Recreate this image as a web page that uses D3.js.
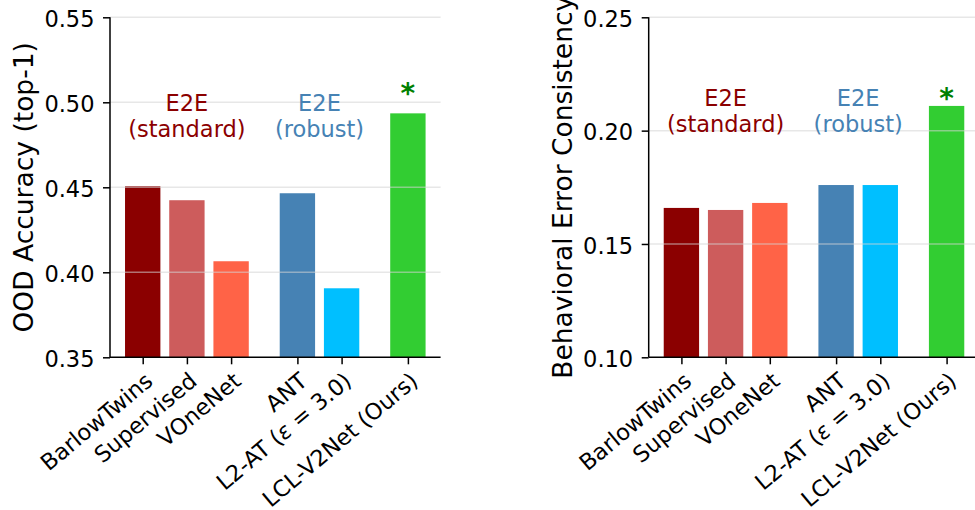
<!DOCTYPE html>
<html>
<head>
<meta charset="utf-8">
<style>
  body { margin: 0; background: #fff; }
  svg, svg text { font-family: "DejaVu Sans", sans-serif; }
</style>
</head>
<body>
<svg width="975" height="510"></svg>
<script src="https://cdn.jsdelivr.net/npm/d3@7/dist/d3.min.js"></script>
<script>

// models, in plot order
var models = ["BarlowTwins", "Supervised", "VOneNet", "ANT", "L2-AT", "LCL-V2Net (Ours)"];
var xPos = [0, 1, 2, 3.5, 4.5, 6];
var barColors = ["#8B0000", "#CD5C5C", "#FF6347", "#4682B4", "#00BFFF", "#32CD32"];

var oodAccuracy = [0.4506, 0.4424, 0.4065, 0.4465, 0.3906, 0.4935];
var errorConsistency = [0.1659, 0.1650, 0.1681, 0.1760, 0.1760, 0.2109];

var oodTicks = [0.35, 0.40, 0.45, 0.50, 0.55];
var ecTicks = [0.10, 0.15, 0.20, 0.25];

// group annotations: x in bar units, y is baseline of first line in data units
var groupNames = ["E2E", "E2E"];
var groupSub = ["(standard)", "(robust)"];
var groupX = [1, 4];
var groupColors = ["#8B0000", "#4682B4"];
var oodGroupY = 0.4947, ecGroupY = 0.2109;
var oodStarY = 0.4994, ecStarY = 0.2100;

var font = "DejaVu Sans";
var svg = d3.select("svg").attr("font-family", font);

function panel(x0, x1, values, domain, ticks, groupY, starY, ylabel) {
  var top = 17.3, bottom = 357.3;
  var x = d3.scaleLinear().domain([-0.74, 6.74]).range([x0, x1]);
  var y = d3.scaleLinear().domain(domain).range([bottom, top]);
  var bw = x(0.8) - x(0);

  var g = svg.append("g");

  g.selectAll("rect")
    .data(values)
    .enter().append("rect")
      .attr("x", (d, i) => x(xPos[i]) - bw / 2)
      .attr("width", bw)
      .attr("y", d => y(d))
      .attr("height", d => bottom - y(d))
      .attr("fill", (d, i) => barColors[i]);

  // grid sits on top of bars, faint
  g.selectAll(".grid")
    .data(ticks.slice(1))
    .enter().append("line")
      .attr("x1", x0).attr("x2", x1)
      .attr("y1", d => y(d)).attr("y2", d => y(d))
      .attr("stroke", "#d4d4d4")
      .attr("stroke-opacity", 0.55)
      .attr("stroke-width", 1.5);

  var yAxis = g.append("g")
    .attr("transform", "translate(" + x0 + ",0)")
    .call(d3.axisLeft(y).tickValues(ticks).tickFormat(d3.format(".2f")).tickSize(7).tickPadding(8.5))
    .attr("font-family", font);
  yAxis.select(".domain").attr("d", "M0," + top + "V" + bottom).attr("stroke-width", 1.5);
  yAxis.selectAll(".tick line").attr("stroke-width", 1.5);
  yAxis.selectAll("text").attr("font-size", 22.5).attr("dy", "0.41em").attr("fill", "#000");

  var xAxis = g.append("g")
    .attr("transform", "translate(0," + bottom + ")")
    .call(d3.axisBottom(x).tickValues(xPos).tickSize(7)
      .tickFormat((d, i) => models[i]))
    .attr("font-family", font);
  xAxis.select(".domain").attr("d", "M" + x0 + ",0H" + x1).attr("stroke-width", 1.5);
  xAxis.selectAll(".tick line").attr("stroke-width", 1.5);
  xAxis.selectAll("text")
    .attr("font-size", 22.5)
    .attr("fill", "#000")
    .attr("x", 0).attr("y", 0)
    .attr("dy", "0.76em")
    .attr("text-anchor", "end")
    .attr("transform", "translate(0,13) rotate(-40)");

  // epsilon label needs italic math symbol
  xAxis.selectAll("text").filter((d, i) => i == 4)
    .text(null)
    .call(t => {
      t.append("tspan").text("L2-AT (");
      t.append("tspan").attr("font-style", "italic").text("ε");
      t.append("tspan").text(" = 3.0)");
    });

  groupNames.forEach((name, i) => {
    var t = g.append("text")
      .attr("x", x(groupX[i]))
      .attr("y", y(groupY))
      .attr("text-anchor", "middle")
      .attr("font-size", 22.5)
      .attr("fill", groupColors[i]);
    t.append("tspan").attr("x", x(groupX[i])).text(name);
    t.append("tspan").attr("x", x(groupX[i])).attr("dy", 25.8).text(groupSub[i]);
  });

  g.append("text")
    .attr("x", x(6))
    .attr("y", y(starY))
    .attr("text-anchor", "middle")
    .attr("font-size", 28)
    .attr("font-weight", "bold")
    .attr("fill", "#008000")
    .text("*");

  g.append("text")
    .attr("transform", "translate(" + (x0 - 77) + "," + ((top + bottom) / 2) + ") rotate(-90)")
    .attr("text-anchor", "middle")
    .attr("font-size", 26.5)
    .attr("fill", "#000")
    .text(ylabel);
}

panel(110, 440.6, oodAccuracy, [0.35, 0.55], oodTicks, oodGroupY, oodStarY, "OOD Accuracy (top-1)");
panel(648.7, 979.3, errorConsistency, [0.10, 0.25], ecTicks, ecGroupY, ecStarY, "Behavioral Error Consistency");

</script>
</body>
</html>
